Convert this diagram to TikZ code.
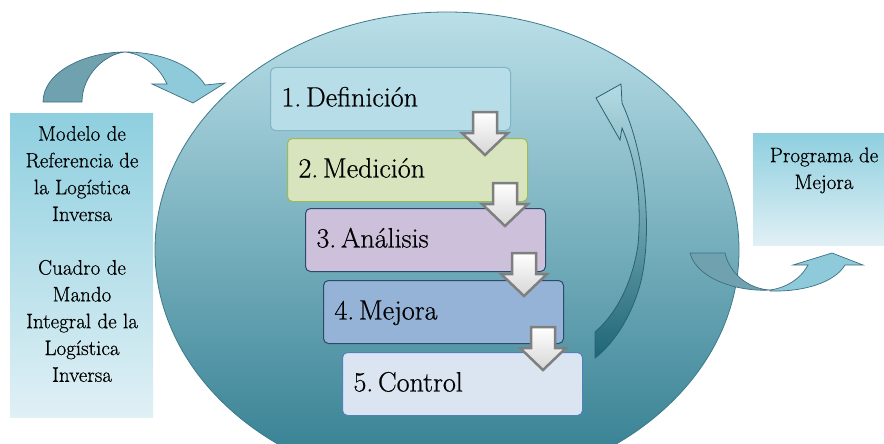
\documentclass[tikz,border=0pt]{standalone}
\usepackage{fontspec}
\newfontfamily\serifA{Latin Modern Roman}[FakeBold=0.6]
\definecolor{ellT}{HTML}{BADFE8}
\definecolor{ellM}{HTML}{93C1CD}
\definecolor{ellB}{HTML}{2E7B8E}
\definecolor{ellLine}{HTML}{3C7A8A}
\definecolor{sideT}{HTML}{8ECFDF}
\definecolor{sideB}{HTML}{E0F0F5}
\definecolor{arrDark}{HTML}{6FA2AE}
\definecolor{arrLight}{HTML}{8FCADB}
\definecolor{arrLine}{HTML}{3E6F80}
\definecolor{upT}{HTML}{B4DBE4}
\definecolor{upM}{HTML}{9CCBD6}
\definecolor{upB}{HTML}{1F6676}
\definecolor{upLine}{HTML}{2B6170}
\definecolor{fillA}{HTML}{B7DDE8}
\definecolor{lineA}{HTML}{7FB5C4}
\definecolor{fillB}{HTML}{D7E4BD}
\definecolor{lineB}{HTML}{9BBB59}
\definecolor{fillC}{HTML}{CCC0DA}
\definecolor{lineC}{HTML}{2C4A6A}
\definecolor{fillD}{HTML}{95B3D7}
\definecolor{lineD}{HTML}{2C4A6A}
\definecolor{fillE}{HTML}{DBE5F1}
\definecolor{lineE}{HTML}{4F81BD}
\definecolor{grayLine}{HTML}{7F7F7F}
\definecolor{grayFill}{HTML}{D6D6D6}
\begin{document}
\begin{tikzpicture}[x=1pt,y=-1pt,
  sidebox/.style={draw=none, top color=sideT, bottom color=sideB, inner sep=0pt},
  sidetext/.style={align=center, font=\serifA\fontsize{21pt}{26.8pt}\selectfont, inner sep=0pt},
  stepbox/.style={draw, line width=1pt, rounded corners=5pt, anchor=north west,
    text width=218pt, align=left, inner xsep=11pt, inner ysep=0pt,
    minimum height=63pt, text height=19pt, text depth=4pt,
    font=\serifA\fontsize{28pt}{32pt}\selectfont},
  blockarrow/.style={draw=grayLine, line width=2.5pt, line join=miter,
    top color=white, bottom color=grayFill},
  twistdark/.style={fill=arrDark, draw=arrLine, line width=0.7pt},
  twistlight/.style={fill=arrLight, draw=arrLine, line width=0.7pt},
  pics/downarrow/.style={code={
    \path[blockarrow] (-12,0) -- (12,0) -- (12,21) -- (23,21) -- (0,43)
      -- (-23,21) -- (-12,21) -- cycle;}}
]
\useasboundingbox (0,0) rectangle (884,444);
\begin{scope}
\clip (0,0) rectangle (884,444);
% big ellipse
\path[top color=ellT, middle color=ellM, bottom color=ellB, draw=ellLine, line width=0.8pt]
  (447,250) ellipse [x radius=292pt, y radius=238pt];
\node[inner sep=0pt, minimum width=584pt, minimum height=476pt] (cycle) at (447,250) {};

% left box
\node[sidebox, minimum width=143pt, minimum height=304pt] (left) at (81.5,265) {};
\node[sidetext] (lefttext) at (82,254)
  {Modelo de\\Referencia de\\la Logística\\Inversa\\[26.8pt]Cuadro de\\Mando\\Integral de la\\Logística\\Inversa};

% right box
\node[sidebox, minimum width=131pt, minimum height=112pt] (right) at (818.5,189) {};
\node[sidetext, anchor=base] (righttext) at (824,189) {Programa de\\Mejora};

% top-left twisted arrow
\path[twistdark] (43,102) .. controls (43,72) and (85,52) .. (125,52)
  .. controls (105,54) and (82,75) .. (82,102) -- cycle;
\path[twistlight] (125,52) .. controls (165,52) and (195,68) .. (205,85)
  -- (225,83) -- (193,103) -- (152,84) -- (167,84)
  .. controls (158,65) and (143,54) .. (125,52) -- cycle;

% bottom-right twisted arrow
\path[twistdark] (690,253) -- (725,253) .. controls (730,275) and (750,289) .. (770,290)
  .. controls (740,292) and (697,280) .. (690,253) -- cycle;
\path[twistlight] (770,291) .. controls (805,292) and (835,282) .. (845,265)
  -- (863,265) -- (832,253) -- (793,265) -- (808,265)
  .. controls (800,280) and (785,288) .. (770,290) -- cycle;

% curved up arrow inside the ellipse
\path[top color=upT, middle color=upM, bottom color=upB, draw=upLine, line width=0.8pt]
  (596,98) -- (621,84) -- (622,103)
  .. controls (648,160) and (652,240) .. (640,285)
  .. controls (630,320) and (612,345) .. (595,358)
  -- (595,332)
  .. controls (615,315) and (632,285) .. (638,245)
  .. controls (642,200) and (636,160) .. (622,128)
  -- (620,140) -- cycle;

% steps
\node[stepbox, fill=fillA, draw=lineA] (s1) at (270,67) {1.\,Definición};
\node[stepbox, fill=fillB, draw=lineB] (s2) at (287,138) {2.\,Medición};
\node[stepbox, fill=fillC, draw=lineC] (s3) at (305,208) {3.\,Análisis};
\node[stepbox, fill=fillD, draw=lineD] (s4) at (323,280) {4.\,Mejora};
\node[stepbox, fill=fillE, draw=lineE] (s5) at (342,352) {5.\,Control};

% down arrows between steps
\coordinate (d1) at (485,112);
\coordinate (d2) at (505,183);
\coordinate (d3) at (524,253);
\coordinate (d4) at (543,327);
\pic at (d1) {downarrow};
\pic at (d2) {downarrow};
\pic at (d3) {downarrow};
\pic at (d4) {downarrow};
\end{scope}
\end{tikzpicture}
\end{document}
